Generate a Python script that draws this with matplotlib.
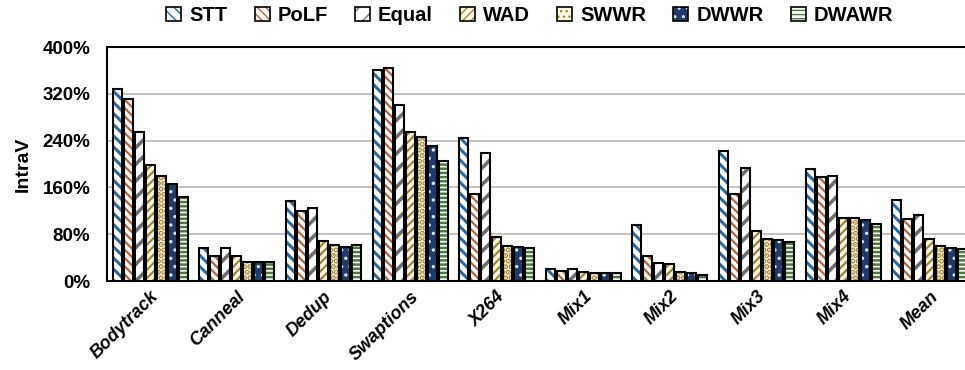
import matplotlib
matplotlib.use("Agg")
import matplotlib.pyplot as plt
import numpy as np
from matplotlib.patches import Patch
from matplotlib.legend_handler import HandlerTuple
from matplotlib.ticker import FuncFormatter

categories = ["Bodytrack", "Canneal", "Dedup", "Swaptions", "X264",
              "Mix1", "Mix2", "Mix3", "Mix4", "Mean"]
series_names = ["STT", "PoLF", "Equal", "WAD", "SWWR", "DWWR", "DWAWR"]

stt   = [328, 57, 136, 361, 245, 21, 95, 223, 192, 139]
polf  = [311, 43, 119, 364, 149, 17, 43, 148, 177, 106]
equal = [255, 56, 125, 301, 218, 20, 30, 194, 180, 112]
wad   = [198, 43, 68, 254, 76, 15, 29, 85, 108, 72]
swwr  = [179, 32, 61, 247, 59, 14, 16, 71, 108, 59]
dwwr  = [166, 33, 58, 231, 58, 14, 14, 70, 105, 56]
dwawr = [143, 33, 61, 205, 56, 14, 11, 66, 98, 54]
values = [stt, polf, equal, wad, swwr, dwwr, dwawr]

yticks = [0, 80, 160, 240, 320, 400]

# fill colour, hatch colour, hatch pattern, hatch line width per series
styles = [
    ("white",   "#2b6a9b", "\\\\\\",   2.2),
    ("white",   "#b8653a", "\\\\\\\\", 1.6),
    ("white",   "#6e6e6e", "//",       2.6),
    ("#fffbe8", "#a4852a", "////",     1.6),
    ("#fffbe8", "#a4852a", "...",      2.8),
    ("#1f3b6e", "#dfe6f3", "..",       1.2),
    ("white",   "#4c7a3c", "----",     1.8),
]

plt.rcParams["font.family"] = ["Liberation Sans", "DejaVu Sans"]

fig = plt.figure(figsize=(9.65, 3.7), dpi=100)
ax = fig.add_axes([107 / 965, 1 - 281 / 370, 866 / 965, 234 / 370])

x = np.arange(len(categories))
pitch = 0.127
width = 0.104
legend_handles = []
for i, (vals, (fc, hc, hatch, hlw)) in enumerate(zip(values, styles)):
    pos = x + (i - 3) * pitch
    with plt.rc_context({"hatch.linewidth": hlw}):
        ax.bar(pos, vals, width, color=fc, edgecolor=hc, hatch=hatch,
               linewidth=0, zorder=3)
        fill_patch = Patch(facecolor=fc, edgecolor=hc, hatch=hatch, linewidth=0)
    ax.bar(pos, vals, width, fill=False, edgecolor="black",
           linewidth=1.5, zorder=4)
    outline_patch = Patch(facecolor="none", edgecolor="black", linewidth=1.2)
    legend_handles.append((fill_patch, outline_patch))

ax.set_xlim(-0.5, len(categories) - 0.5)
ax.set_ylim(0, 400)
ax.set_yticks(yticks)
ax.yaxis.set_major_formatter(FuncFormatter(lambda v, p: f"{v:.0f}%"))
ax.grid(axis="y", color="#bdbdbd", linewidth=1.3, zorder=0)
ax.tick_params(axis="y", length=0, pad=12, labelsize=13.5)
ax.tick_params(axis="x", length=0, pad=5)
for lbl in ax.get_yticklabels():
    lbl.set_fontweight("bold")
ax.set_xticks(x)
ax.set_xticklabels(categories, rotation=45, ha="right", rotation_mode="anchor",
                   fontsize=13, fontweight="bold", style="italic")
ax.set_ylabel("IntraV", fontsize=14, fontweight="bold", labelpad=8)
for s in ["left", "bottom", "top", "right"]:
    ax.spines[s].set_linewidth(1.5)
    ax.spines[s].set_color("black")

fig.legend(legend_handles, series_names, loc="center", ncol=7,
           bbox_to_anchor=(0.549, 0.958), frameon=False,
           handler_map={tuple: HandlerTuple(ndivide=1, pad=0)},
           handlelength=0.75, handleheight=0.75, handletextpad=0.4,
           columnspacing=1.34, prop={"weight": "bold", "size": 14.5})

fig.savefig("out.png", dpi=100)
